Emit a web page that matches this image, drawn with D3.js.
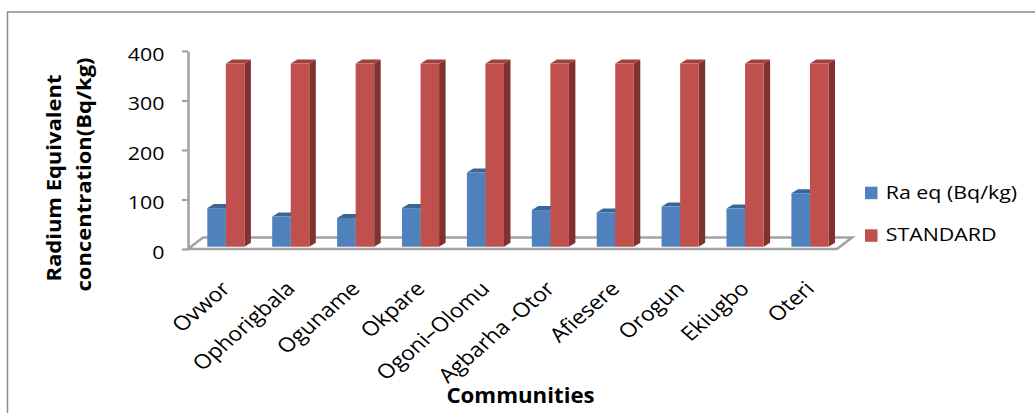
<!DOCTYPE html>
<html>
<head>
<meta charset="utf-8">
<script src="https://cdn.jsdelivr.net/npm/d3@7"></script>
<style>
  html, body { margin: 0; padding: 0; background: #fff; }
  svg { display: block; font-family: "Open Sans", "Noto Sans", sans-serif; }
</style>
</head>
<body>
<svg id="chart" width="1035" height="413"></svg>
<script>
// Radium equivalent activity per community against the recommended limit
const categories = ["Ovwor", "Ophorigbala", "Oguname", "Okpare", "Ogoni–Olomu",
                    "Agbarha -Otor", "Afiesere", "Orogun", "Ekiugbo", "Oteri"];
const raEq = [78, 61, 58, 78, 150, 74, 69, 81, 77, 108];
const standard = [370, 370, 370, 370, 370, 370, 370, 370, 370, 370];
const seriesNames = ["Ra eq (Bq/kg)", "STANDARD"];
const yTicks = [0, 100, 200, 300, 400];

const svg = d3.select("#chart");
const SX = 1.15;               // text is drawn slightly wide
const FONT = 18.6;

// outer frame
svg.append("rect")
  .attr("x", 7.5).attr("y", 12).attr("width", 1040).attr("height", 420)
  .attr("fill", "none").attr("stroke", "#8c8c8c").attr("stroke-width", 1.5);

// plot geometry
const plotLeft = 188, plotRight = 837, plotBase = 249, plotTop = 51;
const y = d3.scaleLinear().domain([0, 400]).range([plotBase, plotTop]);
const x = d3.scaleBand().domain(categories).range([plotLeft, plotRight]);
const inner = d3.scaleBand().domain(seriesNames).range([0, x.bandwidth()]).paddingOuter(0.75);

const floorDepth = { dx: 15, dy: -11.5 };   // floor receding into the page
const barShift = { dx: 5.4, dy: -2.3 };      // bars sit a little behind the front edge
const barDepth = { dx: 6.5, dy: -4 };        // thickness of each bar

// floor outline
const floor = [
  [plotLeft, plotBase], [plotLeft + floorDepth.dx, plotBase + floorDepth.dy],
  [plotRight + floorDepth.dx, plotBase + floorDepth.dy], [plotRight, plotBase]
];
svg.append("path")
  .attr("d", d3.line()(floor) + "Z")
  .attr("fill", "none").attr("stroke", "#a3a3a3").attr("stroke-width", 2.6)
  .attr("stroke-linejoin", "miter");

// bars
const palette = {
  "Ra eq (Bq/kg)": { front: "#4f81bd", top: "#3b6595", side: "#36598a" },
  "STANDARD":      { front: "#c0504d", top: "#a0413e", side: "#7f3230" }
};
const rows = categories.map((c, i) => ({ c, values: [raEq[i], standard[i]] }));

const groups = svg.append("g").selectAll("g").data(rows).join("g");
groups.each(function (row) {
  const g = d3.select(this);
  seriesNames.forEach((s, k) => {
    const v = row.values[k];
    const x0 = x(row.c) + inner(s) + barShift.dx;
    const x1 = x0 + inner.bandwidth();
    const y0 = y(0) + barShift.dy;
    const y1 = y(v) + barShift.dy;
    const col = palette[s];
    const dx = barDepth.dx, dy = barDepth.dy;
    // side face
    g.append("path")
      .attr("d", d3.line()([[x1, y1], [x1 + dx, y1 + dy], [x1 + dx, y0 + dy], [x1, y0]]) + "Z")
      .attr("fill", col.side);
    // top face
    g.append("path")
      .attr("d", d3.line()([[x0, y1], [x0 + dx, y1 + dy], [x1 + dx, y1 + dy], [x1, y1]]) + "Z")
      .attr("fill", col.top);
    // front face
    g.append("rect")
      .attr("x", x0).attr("y", y1).attr("width", x1 - x0).attr("height", y0 - y1)
      .attr("fill", col.front);
  });
});

// value axis
const axis = svg.append("g")
  .attr("transform", `translate(${plotLeft},0)`)
  .call(d3.axisLeft(y).tickValues(yTicks).tickSize(6).tickSizeOuter(0));
axis.select(".domain").attr("stroke", "#a3a3a3").attr("stroke-width", 2.6);
axis.selectAll(".tick line").attr("stroke", "#a3a3a3").attr("stroke-width", 2.2);
axis.selectAll(".tick text")
  .attr("x", 0).attr("y", 0).attr("dy", null)
  .attr("transform", `translate(-23.5,9) scale(${SX},1)`)
  .attr("font-family", "Open Sans").attr("font-size", FONT).attr("fill", "#000")
  .attr("text-anchor", "end");

// category labels, slanted and widened like the other text
svg.append("g").selectAll("text").data(categories).join("text")
  .attr("transform", d => `translate(${x(d) + x.bandwidth() / 2 + 11},290) scale(${SX},1) rotate(-45)`)
  .attr("text-anchor", "end")
  .attr("font-size", 20).attr("fill", "#000")
  .text(d => d);

// axis titles
svg.append("text")
  .attr("transform", `translate(520.5,403) scale(1.08,1)`)
  .attr("text-anchor", "middle").attr("font-weight", "bold")
  .attr("font-size", 20.6).attr("fill", "#000")
  .text("Communities");

const yTitle = [
  { t: "Radium Equivalent", x: 61, y: 178 },
  { t: "concentration(Bq/kg)", x: 91, y: 174.5 }
];
svg.append("g").selectAll("text").data(yTitle).join("text")
  .attr("transform", d => `translate(${d.x},${d.y}) rotate(-90) scale(1.1,1)`)
  .attr("text-anchor", "middle").attr("font-weight", "bold")
  .attr("font-size", 20).attr("fill", "#000")
  .text(d => d.t);

// legend
const legend = svg.append("g").selectAll("g").data(seriesNames).join("g")
  .attr("transform", (d, i) => `translate(865,${186.7 + i * 42.6})`);
legend.append("rect")
  .attr("width", 12.5).attr("height", 12.5)
  .attr("fill", d => palette[d].front);
legend.append("text")
  .attr("transform", `translate(20.7,12) scale(${SX},1)`)
  .attr("font-size", FONT).attr("fill", "#000")
  .text(d => d);
</script>
</body>
</html>
